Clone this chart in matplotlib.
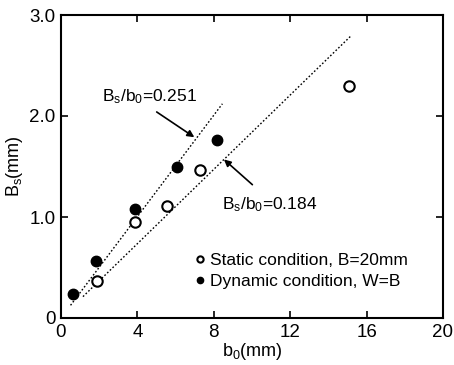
import matplotlib
matplotlib.use("Agg")
import matplotlib.pyplot as plt
import numpy as np

plt.rcParams['font.family'] = ['Liberation Sans', 'DejaVu Sans']
plt.rcParams['mathtext.fontset'] = 'custom'
plt.rcParams['mathtext.rm'] = 'Liberation Sans'
plt.rcParams['mathtext.it'] = 'Liberation Sans'

# Data
static_b0 = [1.9, 3.87, 5.53, 7.28, 15.1]
static_Bs = [0.37, 0.95, 1.11, 1.47, 2.30]
dynamic_b0 = [0.65, 1.82, 3.89, 6.06, 8.18]
dynamic_Bs = [0.24, 0.56, 1.08, 1.50, 1.76]

ratio_hi = 0.251
ratio_lo = 0.184
hi_range = [0.5, 8.45]
lo_range = [1.15, 15.22]

x_ticks = [0, 4, 8, 12, 16, 20]
x_ticklabels = ['0', '4', '8', '12', '16', '20']
y_ticks = [0, 1.0, 2.0, 3.0]
y_ticklabels = ['0', '1.0', '2.0', '3.0']

fig = plt.figure(figsize=(4.54, 3.65), dpi=100)
ax = fig.add_axes([61/454, 1-318/365, (443-61)/454, (318-15)/365])

xh = np.array(hi_range)
ax.plot(xh, ratio_hi*xh, linestyle=(0, (1.2, 1.5)), color='black', lw=1.0)
xl = np.array(lo_range)
ax.plot(xl, ratio_lo*xl, linestyle=(0, (1.2, 1.5)), color='black', lw=1.0)

ax.plot(static_b0, static_Bs, 'o', mfc='white', mec='black', mew=1.5, ms=7.5,
        linestyle='none', label='Static condition, B=20mm')
ax.plot(dynamic_b0, dynamic_Bs, 'o', mfc='black', mec='black', mew=1.0, ms=7.5,
        linestyle='none', label='Dynamic condition, W=B')

ax.text(2.13, 2.19, r'B$_{\rm s}$/b$_{\rm 0}$=0.251', fontsize=12.5,
        va='center', ha='left')
ax.annotate('', xy=(6.98, 1.79), xytext=(5.01, 2.04),
            arrowprops=dict(arrowstyle='-|>', color='black', lw=1.2,
                            mutation_scale=10, shrinkA=0, shrinkB=0))
ax.annotate('', xy=(8.53, 1.57), xytext=(10.02, 1.32),
            arrowprops=dict(arrowstyle='-|>', color='black', lw=1.2,
                            mutation_scale=10, shrinkA=0, shrinkB=0))
ax.text(8.41, 1.12, r'B$_{\rm s}$/b$_{\rm 0}$=0.184', fontsize=12.5,
        va='center', ha='left')

leg = ax.legend(loc='center left', bbox_to_anchor=(0.355, 0.155), frameon=False,
                fontsize=12.5, markerscale=0.6, handlelength=0.4,
                handletextpad=0.35, labelspacing=0.3, borderaxespad=0.0,
                borderpad=0.0)

ax.set_xlim(0, 20)
ax.set_ylim(0, 3.0)
ax.set_xticks(x_ticks)
ax.set_xticklabels(x_ticklabels)
ax.set_yticks(y_ticks)
ax.set_yticklabels(y_ticklabels)
ax.tick_params(direction='in', length=5, width=1.2, labelsize=13.5,
               top=True, right=True, pad=4)
for s in ax.spines.values():
    s.set_linewidth(1.5)

ax.set_xlabel(r'b$_{\rm 0}$(mm)', fontsize=13, labelpad=0)
ax.set_ylabel(r'B$_{\rm s}$(mm)', fontsize=13, labelpad=3)

fig.savefig('out.png', dpi=100)
